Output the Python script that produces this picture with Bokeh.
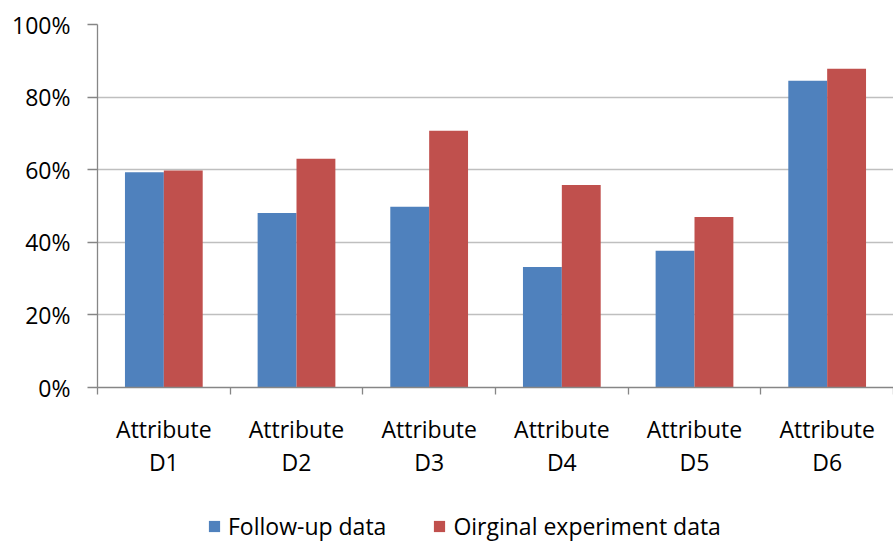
from bokeh.plotting import figure
from bokeh.layouts import column
from bokeh.models import (Range1d, LinearAxis, FixedTicker, Legend, LegendItem,
                          NumeralTickFormatter, Grid)
from bokeh.embed import file_html
from bokeh.resources import INLINE

categories = ["D1", "D2", "D3", "D4", "D5", "D6"]
label_prefix = "Attribute"
follow_up = [0.593, 0.481, 0.498, 0.332, 0.377, 0.845]
original = [0.598, 0.630, 0.707, 0.558, 0.470, 0.878]
series_names = ["Follow-up data", "Oirginal experiment data"]
y_ticks = [0, 0.2, 0.4, 0.6, 0.8, 1.0]

BLUE = "#4F81BD"
RED = "#C0504D"
FONT = "Open Sans"
FS = "23px"
AXIS_C = "#868686"
GRID_C = "#BFBFBF"

n = len(categories)
bar_w = 0.293
xs = list(range(n))
x_blue = [i + 0.5 - bar_w / 2 for i in xs]
x_red = [i + 0.5 + bar_w / 2 for i in xs]

p = figure(width=893, height=500, output_backend="svg", toolbar_location=None,
           x_range=Range1d(0, n), y_range=Range1d(0, 1.0),
           x_axis_type=None, y_axis_type=None,
           min_border_left=97, min_border_right=0, min_border_top=24,
           min_border_bottom=113,
           outline_line_color=None)

# y axis
yax = LinearAxis(ticker=FixedTicker(ticks=y_ticks),
                 formatter=NumeralTickFormatter(format="0%"))
yax.axis_line_color = AXIS_C
yax.axis_line_width = 1.3
yax.major_tick_line_color = AXIS_C
yax.major_tick_line_width = 1.3
yax.major_tick_out = 10
yax.major_tick_in = 0
yax.minor_tick_line_color = None
yax.major_label_standoff = 17
yax.major_label_text_font = FONT
yax.major_label_text_font_size = FS
yax.major_label_text_color = "#000000"
p.add_layout(yax, "left")

# x axis with boundary ticks
xax = LinearAxis(ticker=FixedTicker(ticks=list(range(n + 1))))
xax.axis_line_color = AXIS_C
xax.axis_line_width = 1.3
xax.major_tick_line_color = AXIS_C
xax.major_tick_line_width = 1.3
xax.major_tick_out = 7
xax.major_tick_in = 0
xax.minor_tick_line_color = None
xax.major_label_overrides = {i: "" for i in range(n + 1)}
xax.major_label_text_font_size = "1px"
xax.major_label_standoff = 0
p.add_layout(xax, "below")

# category label axis
lax = LinearAxis(ticker=FixedTicker(ticks=[i + 0.5 for i in xs]))
lax.axis_line_color = None
lax.major_tick_line_color = None
lax.minor_tick_line_color = None
lax.major_label_overrides = {i + 0.5: f"{label_prefix}\n{c}" for i, c in zip(xs, categories)}
lax.major_label_text_font = FONT
lax.major_label_text_font_size = FS
lax.major_label_text_line_height = 1.05
lax.major_label_text_color = "#000000"
lax.major_label_standoff = 12
p.add_layout(lax, "below")

g = Grid(dimension=1, ticker=FixedTicker(ticks=y_ticks[1:]), grid_line_color=GRID_C,
         grid_line_width=1.3)
p.add_layout(g)

p.vbar(x=x_blue, top=follow_up, bottom=0, width=bar_w, fill_color=BLUE,
       line_color=None)
p.vbar(x=x_red, top=original, bottom=0, width=bar_w, fill_color=RED,
       line_color=None)

# legend strip (its bars lie outside its visible range; only the legend shows)
p2 = figure(width=893, height=42, output_backend="svg", toolbar_location=None,
            x_range=Range1d(0, n), y_range=Range1d(2, 3),
            x_axis_type=None, y_axis_type=None, min_border=0,
            outline_line_color=None)
p2.xgrid.visible = False
p2.ygrid.visible = False
l1 = p2.vbar(x=x_blue, top=follow_up, bottom=0, width=bar_w, fill_color=BLUE,
             line_color=None)
l2 = p2.vbar(x=x_red, top=original, bottom=0, width=bar_w, fill_color=RED,
             line_color=None)

legend = Legend(items=[LegendItem(label=series_names[0], renderers=[l1]),
                       LegendItem(label=series_names[1], renderers=[l2])],
                orientation="horizontal", location=(110, 0))
legend.border_line_color = None
legend.background_fill_alpha = 0
legend.label_text_font = FONT
legend.label_text_font_size = FS
legend.label_text_color = "#000000"
legend.glyph_width = 14
legend.glyph_height = 14
legend.spacing = 46
legend.label_standoff = 7
legend.margin = 0
legend.padding = 0
p2.add_layout(legend, "center")

layout = column(p, p2, spacing=0)
open("out.html", "w").write(file_html(layout, INLINE))
